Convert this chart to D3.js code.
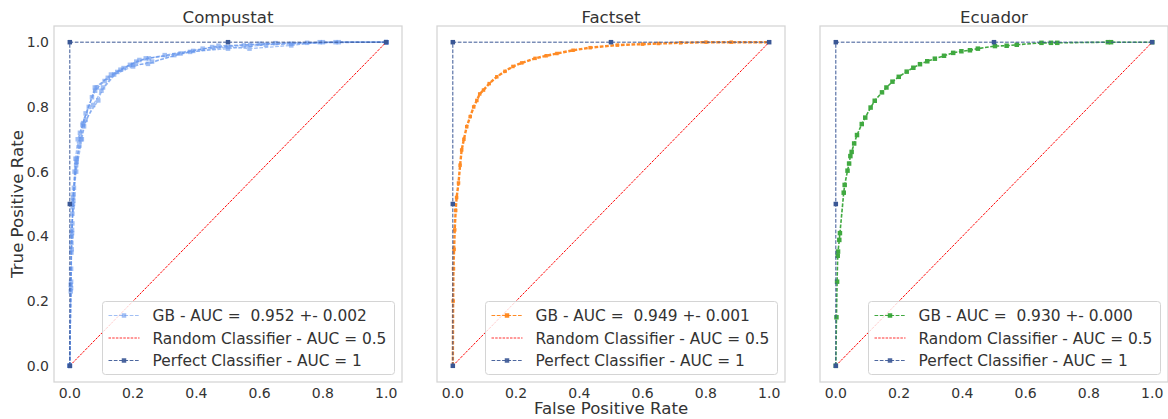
<!DOCTYPE html>
<html>
<head>
<meta charset="utf-8">
<script src="https://cdn.jsdelivr.net/npm/d3@7"></script>
<style>
  body { margin: 0; background: #fff; }
  text { font-family: "DejaVu Sans", sans-serif; fill: #333; }
</style>
</head>
<body>
<div id="app"></div>
<script>
// ---- data ----
const panelTitles = ['Compustat', 'Factset', 'Ecuador']
const xTicks = [0, 0.2, 0.4, 0.6, 0.8, 1.0]
const yTicks = [0, 0.2, 0.4, 0.6, 0.8, 1.0]
const gbLabels = ['GB - AUC =  0.952 +- 0.002', 'GB - AUC =  0.949 +- 0.001', 'GB - AUC =  0.930 +- 0.000']

// compustat: five folds, [fpr, tpr]
const compustatFold1 = [[0,0],[0.003,0.23],[0.004,0.26],[0.006,0.36],[0.007,0.41],[0.009,0.49],[0.01,0.52],[0.015,0.6],[0.021,0.63],[0.03,0.68],[0.042,0.75],[0.06,0.8],[0.079,0.86],[0.12,0.89],[0.16,0.915],[0.21,0.94],[0.25,0.95],[0.39,0.973],[0.47,0.989],[0.57,0.992],[0.7,0.995],[0.84,1],[1,1]]
const compustatFold2 = [[0,0],[0.004,0.24],[0.005,0.38],[0.008,0.47],[0.012,0.53],[0.02,0.62],[0.035,0.7],[0.045,0.74],[0.074,0.806],[0.1,0.85],[0.15,0.908],[0.2,0.93],[0.247,0.933],[0.35,0.965],[0.5,0.985],[0.568,0.98],[0.7,0.99],[0.79,1],[1,1]]
const compustatFold3 = [[0,0],[0.003,0.25],[0.006,0.4],[0.01,0.5],[0.018,0.64],[0.025,0.7],[0.04,0.745],[0.07,0.83],[0.085,0.86],[0.13,0.9],[0.19,0.93],[0.24,0.95],[0.33,0.96],[0.45,0.985],[0.6,0.995],[0.75,0.998],[1,1]]
const compustatFold4 = [[0,0],[0.005,0.35],[0.008,0.44],[0.013,0.55],[0.022,0.64],[0.032,0.72],[0.05,0.78],[0.08,0.85],[0.11,0.88],[0.17,0.92],[0.22,0.945],[0.3,0.96],[0.42,0.98],[0.55,0.99],[0.65,0.997],[0.8,1],[1,1]]
const compustatFold5 = [[0,0],[0.004,0.3],[0.007,0.42],[0.011,0.51],[0.02,0.6],[0.038,0.7],[0.05,0.76],[0.09,0.82],[0.105,0.86],[0.14,0.9],[0.2,0.925],[0.26,0.94],[0.38,0.97],[0.5,0.98],[0.62,0.992],[0.85,1],[1,1]]

const factsetRoc = [[0,0],[0.001,0.2],[0.002,0.3],[0.004,0.36],[0.006,0.42],[0.009,0.48],[0.012,0.52],[0.018,0.565],[0.023,0.62],[0.028,0.667],[0.035,0.7],[0.044,0.739],[0.055,0.77],[0.066,0.8],[0.076,0.82],[0.085,0.84],[0.097,0.852],[0.115,0.872],[0.139,0.893],[0.165,0.91],[0.19,0.925],[0.218,0.936],[0.26,0.95],[0.295,0.958],[0.329,0.965],[0.38,0.975],[0.434,0.983],[0.52,0.991],[0.6,0.994],[0.65,0.996],[0.72,0.998],[0.8,1],[0.88,1],[1,1]]

const ecuadorRoc = [[0,0],[0.002,0.15],[0.004,0.26],[0.006,0.34],[0.007,0.353],[0.011,0.389],[0.013,0.41],[0.025,0.535],[0.028,0.559],[0.037,0.603],[0.042,0.625],[0.046,0.648],[0.05,0.661],[0.058,0.687],[0.067,0.713],[0.082,0.747],[0.093,0.767],[0.11,0.798],[0.123,0.819],[0.146,0.845],[0.16,0.86],[0.179,0.878],[0.199,0.893],[0.224,0.909],[0.245,0.921],[0.266,0.932],[0.289,0.941],[0.313,0.949],[0.342,0.958],[0.371,0.967],[0.397,0.972],[0.424,0.975],[0.449,0.98],[0.503,0.988],[0.54,0.989],[0.572,0.992],[0.65,0.998],[0.68,0.998],[0.7,0.998],[0.86,1],[0.87,1],[1,1]]

const randomRoc = [[0,0],[1,1]]
const perfectRoc = [[0,0],[0,0.5],[0,1],[0.5,1],[1,1]]

const panelCurves = [
  [compustatFold1, compustatFold2, compustatFold3, compustatFold4, compustatFold5],
  [factsetRoc],
  [ecuadorRoc]
]
const gbColors = ['#6495ed', '#ff7f0e', '#2ca02c']
const gbOpacity = [0.6, 0.9, 0.9]
const gbWidth = [1.3, 2.4, 1.6]
const gbMarker = [4.5, 3.5, 4.5]
const perfectColor = '#3a5795'
const randomColor = '#ff0000'

// ---- layout ----
const width = 1168, height = 419
const frameLefts = [54, 437, 820]
const frameW = 348
const frameTop = 26, frameBottom = 382

const svg = d3.select('#app').append('svg')
  .attr('width', width)
  .attr('height', height)

const y = d3.scaleLinear().domain([-0.05, 1.05]).range([frameBottom, frameTop])
const square = (size) => d3.symbol(d3.symbolSquare, size * size)

panelTitles.forEach((title, p) => {
  const left = frameLefts[p]
  const x = d3.scaleLinear().domain([-0.05, 1.05]).range([left, left + frameW])
  const g = svg.append('g')
  const line = d3.line().x(d => x(d[0])).y(d => y(d[1]))

  // frame
  g.append('rect')
    .attr('x', left).attr('y', frameTop)
    .attr('width', frameW).attr('height', frameBottom - frameTop)
    .attr('fill', 'none').attr('stroke', '#d4d4d4').attr('stroke-width', 1.25)

  // x axis labels
  g.append('g').selectAll('text').data(xTicks).join('text')
    .attr('x', d => x(d)).attr('y', 398)
    .attr('text-anchor', 'middle').attr('font-size', 14)
    .text(d => d.toFixed(1))

  // y axis labels only on first panel
  if (p === 0) {
    g.append('g').selectAll('text').data(yTicks).join('text')
      .attr('x', left - 5).attr('y', d => y(d) + 5)
      .attr('text-anchor', 'end').attr('font-size', 14)
      .text(d => d.toFixed(1))
  }

  g.append('text')
    .attr('x', left + frameW / 2).attr('y', 23)
    .attr('text-anchor', 'middle').attr('font-size', 16.6)
    .text(title)

  // GB curves
  panelCurves[p].forEach(curve => {
    const cg = g.append('g').attr('opacity', gbOpacity[p])
    cg.append('path').datum(curve)
      .attr('d', line).attr('fill', 'none')
      .attr('stroke', gbColors[p]).attr('stroke-width', gbWidth[p])
      .attr('stroke-dasharray', '3.7,1.6')
    cg.selectAll('path.m').data(curve).join('path')
      .attr('class', 'm')
      .attr('transform', d => `translate(${x(d[0])},${y(d[1])})`)
      .attr('d', square(gbMarker[p])).attr('fill', gbColors[p])
  })

  // random classifier
  g.append('path').datum(randomRoc)
    .attr('d', line).attr('fill', 'none')
    .attr('stroke', randomColor).attr('stroke-width', 1)
    .attr('stroke-dasharray', '2.5,1.2')

  // perfect classifier
  g.append('path').datum(perfectRoc)
    .attr('d', line).attr('fill', 'none')
    .attr('stroke', perfectColor).attr('stroke-width', 1)
    .attr('stroke-dasharray', '3.7,1.6')
  g.selectAll('path.pm').data(perfectRoc).join('path')
    .attr('class', 'pm')
    .attr('transform', d => `translate(${x(d[0])},${y(d[1])})`)
    .attr('d', square(4.5)).attr('fill', perfectColor)

  // legend
  const lw = 292, lh = 73
  const lx = left + frameW - 7.5 - lw, ly = frameBottom - 7.5 - lh
  const lg = g.append('g').attr('transform', `translate(${lx},${ly})`)
  lg.append('rect').attr('width', lw).attr('height', lh).attr('rx', 3)
    .attr('fill', 'white').attr('fill-opacity', 0.8)
    .attr('stroke', '#d4d4d4').attr('stroke-width', 1)

  const entries = [
    { label: gbLabels[p], color: gbColors[p], marker: true, dash: '3.7,1.6', op: gbOpacity[p] },
    { label: 'Random Classifier - AUC = 0.5', color: randomColor, marker: false, dash: '2.5,1.2', op: 0.8 },
    { label: 'Perfect Classifier - AUC = 1', color: perfectColor, marker: true, dash: '3.7,1.6', op: 0.9 }
  ]
  entries.forEach((e, i) => {
    const ry = 14 + i * 22.5
    lg.append('line').attr('x1', 6).attr('x2', 37).attr('y1', ry).attr('y2', ry)
      .attr('stroke', e.color).attr('stroke-width', 1).attr('stroke-dasharray', e.dash)
      .attr('opacity', e.op)
    if (e.marker) {
      lg.append('path').attr('transform', `translate(21.5,${ry})`)
        .attr('d', square(4.5)).attr('fill', e.color).attr('opacity', e.op)
    }
    lg.append('text').attr('x', 50).attr('y', ry + 5.5)
      .attr('font-size', 15.4).attr('xml:space', 'preserve')
      .style('white-space', 'pre')
      .text(e.label)
  })
})

svg.append('text')
  .attr('transform', `translate(23,${(frameTop + frameBottom) / 2}) rotate(-90)`)
  .attr('text-anchor', 'middle').attr('font-size', 16.6)
  .text('True Positive Rate')

svg.append('text')
  .attr('x', frameLefts[1] + frameW / 2).attr('y', 414)
  .attr('text-anchor', 'middle').attr('font-size', 16.6)
  .text('False Positive Rate')
</script>
</body>
</html>
